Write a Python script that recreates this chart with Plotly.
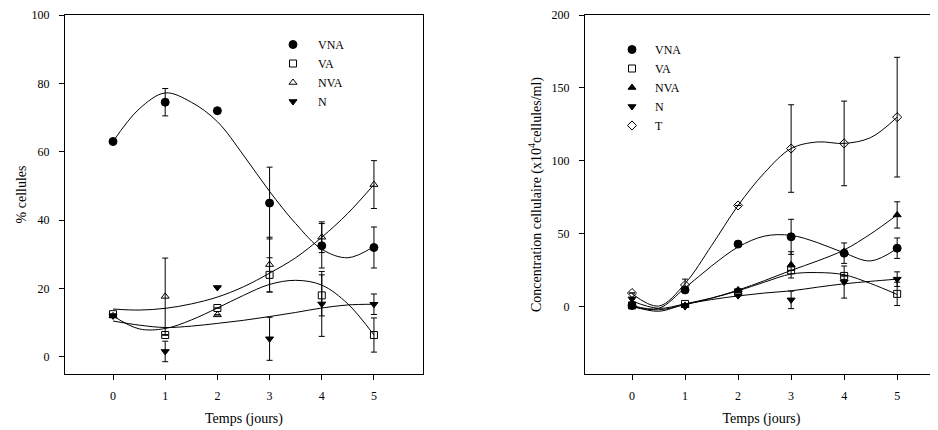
import plotly.graph_objects as go

days = [0, 1, 2, 3, 4, 5]
curve_x = [0, 0.5, 1, 1.5, 2, 2.5, 3, 3.5, 4, 4.5, 5]

# left panel: % cellules
pct_vna = [63, 74.5, 72, 45, 32.5, 32]
pct_vna_err = [0, 4, 0, 10.5, 6.5, 6]
pct_va = [12.5, 6.4, 14.3, 24, 18, 6.4]
pct_va_err = [0, 0, 0, 5, 6, 5]
pct_nva = [12, 17.7, 12.3, 27, 35, 50.4]
pct_nva_err = [0, 11.2, 0, 8, 4.5, 7]
pct_n = [12, 1.6, 20.3, 5.3, 15.5, 15.4]
pct_n_err = [0, 3, 0, 6.3, 9.5, 3]

pct_vna_fit = [63, 72.5, 77.2, 74.5, 68.8, 59, 48.4, 39, 31.5, 29, 32.3]
pct_va_fit = [12, 8.2, 8.3, 10.8, 14.3, 18, 21.2, 22.4, 21, 15.5, 6.4]
pct_nva_fit = [14, 13.7, 14.2, 15.5, 17.5, 20.5, 24.5, 29, 35, 42, 50.4]
pct_n_fit = [10.5, 9.3, 8.6, 9, 9.8, 10.7, 11.8, 13, 14.3, 15.2, 15.4]

# right panel: concentration (x10^4 cellules/ml)
conc_vna = [1, 11.6, 43, 48, 36.8, 40.2]
conc_vna_err = [0, 0, 0, 12, 7, 7]
conc_va = [1, 2, 10, 25, 21.2, 8.9]
conc_va_err = [0, 0, 0, 0, 0, 8]
conc_nva = [1, 1, 11.6, 28.8, 38, 63]
conc_nva_err = [0, 0, 0, 9, 0, 9]
conc_n = [5.5, 0.2, 7.7, 4.8, 17, 19]
conc_n_err = [0, 0, 0, 6, 11, 5]
conc_t = [9.5, 15, 69.5, 108.5, 112, 130]
conc_t_err = [0, 4, 0, 30, 29, 41]

conc_vna_fit = [1, -1, 13, 28, 41, 48.5, 49, 44, 37, 31.5, 40]
conc_va_fit = [0.5, -3, 2, 6, 11, 17, 22.5, 23.5, 22, 16, 8.5]
conc_nva_fit = [0, -2, 1.5, 6, 11.5, 18, 25, 31.5, 39, 50, 63]
conc_n_fit = [4, -1, 2, 5, 7.5, 9.5, 11, 13.5, 15.8, 17.5, 19]
conc_t_fit = [9, 0.5, 16, 42, 69.5, 92, 108.5, 113, 112, 116, 130]

FONT = "Liberation Serif"
ink = "black"

# page body adds an 8px margin, so the figure is drawn 8px smaller and shifted
OFF = 8
W, H = 938 - OFF, 430 - OFF


def px_x(x):
    return (x - OFF) / W


def px_y(y):
    return 1 - (y - OFF) / H


def points(x, y, err, name, symbol, xa, ya, legend, size=7):
    return go.Scatter(
        x=x, y=y, mode="markers", name=name,
        marker=dict(symbol=symbol, size=size, color=ink,
                    line=dict(color=ink, width=1)),
        error_y=dict(type="data", array=err, visible=True,
                     color=ink, thickness=1, width=3),
        xaxis=xa, yaxis=ya, legend=legend,
    )


def fit(x, y, xa, ya):
    return go.Scatter(
        x=x, y=y, mode="lines", line=dict(color=ink, width=1, shape="spline", smoothing=1),
        showlegend=False, hoverinfo="skip", xaxis=xa, yaxis=ya,
    )


fig = go.Figure()

# left
for yv in [pct_vna_fit, pct_va_fit, pct_nva_fit, pct_n_fit]:
    fig.add_trace(fit(curve_x, yv, "x", "y"))
fig.add_trace(points(days, pct_vna, pct_vna_err, "VNA", "circle", "x", "y", "legend", 8))
fig.add_trace(points(days, pct_va, pct_va_err, "VA", "square-open", "x", "y", "legend"))
fig.add_trace(points(days, pct_nva, pct_nva_err, "NVA", "triangle-up-open", "x", "y", "legend"))
fig.add_trace(points(days, pct_n, pct_n_err, "N", "triangle-down", "x", "y", "legend"))

# right
for yv in [conc_vna_fit, conc_va_fit, conc_nva_fit, conc_n_fit, conc_t_fit]:
    fig.add_trace(fit(curve_x, yv, "x2", "y2"))
fig.add_trace(points(days, conc_vna, conc_vna_err, "VNA", "circle", "x2", "y2", "legend2", 8))
fig.add_trace(points(days, conc_va, conc_va_err, "VA", "square-open", "x2", "y2", "legend2"))
fig.add_trace(points(days, conc_nva, conc_nva_err, "NVA", "triangle-up", "x2", "y2", "legend2"))
fig.add_trace(points(days, conc_n, conc_n_err, "N", "triangle-down", "x2", "y2", "legend2"))
fig.add_trace(points(days, conc_t, conc_t_err, "T", "diamond-open", "x2", "y2", "legend2"))

axis_common = dict(
    showgrid=False, zeroline=False, showline=True, linecolor=ink, linewidth=1,
    ticks="outside", ticklen=5, tickcolor=ink, tickwidth=1, automargin=False,
    tickfont=dict(family=FONT, size=12, color=ink),
)
xaxis_common = dict(axis_common, tickvals=days, mirror=True, ticklabelstandoff=6)
yaxis_common = dict(axis_common, ticklabelstandoff=7)
ydom = [px_y(374), px_y(15)]

fig.update_layout(
    width=W, height=H,
    margin=dict(l=0, r=0, t=0, b=0),
    paper_bgcolor="white", plot_bgcolor="white",
    font=dict(family=FONT, size=12, color=ink),
    xaxis=dict(xaxis_common, domain=[px_x(65), px_x(423)], range=[-0.92, 5.94], anchor="y",
               title=dict(text="Temps (jours)", standoff=10)),
    yaxis=dict(yaxis_common, domain=ydom, range=[-5, 100], tickvals=[0, 20, 40, 60, 80, 100],
               mirror=True, anchor="x",
               title=dict(text="% cellules", standoff=1)),
    xaxis2=dict(xaxis_common, domain=[px_x(585), 1.0], range=[-0.887, 5.77], anchor="y2",
                title=dict(text="Temps (jours)", standoff=10)),
    yaxis2=dict(yaxis_common, domain=ydom, range=[-46, 200], tickvals=[0, 50, 100, 150, 200],
                mirror=False, anchor="x2",
                title=dict(text="Concentration cellulaire (x10<sup>4</sup>cellules/ml)", standoff=6)),
    legend=dict(x=px_x(293 - 25), y=px_y(44 - 14), xanchor="left", yanchor="top", itemwidth=40,
                bgcolor="rgba(0,0,0,0)", font=dict(family=FONT, size=12)),
    legend2=dict(x=px_x(632 - 23), y=px_y(49 - 14), xanchor="left", yanchor="top", itemwidth=36,
                 bgcolor="rgba(0,0,0,0)", font=dict(family=FONT, size=12)),
)

fig.write_html("out.html")
